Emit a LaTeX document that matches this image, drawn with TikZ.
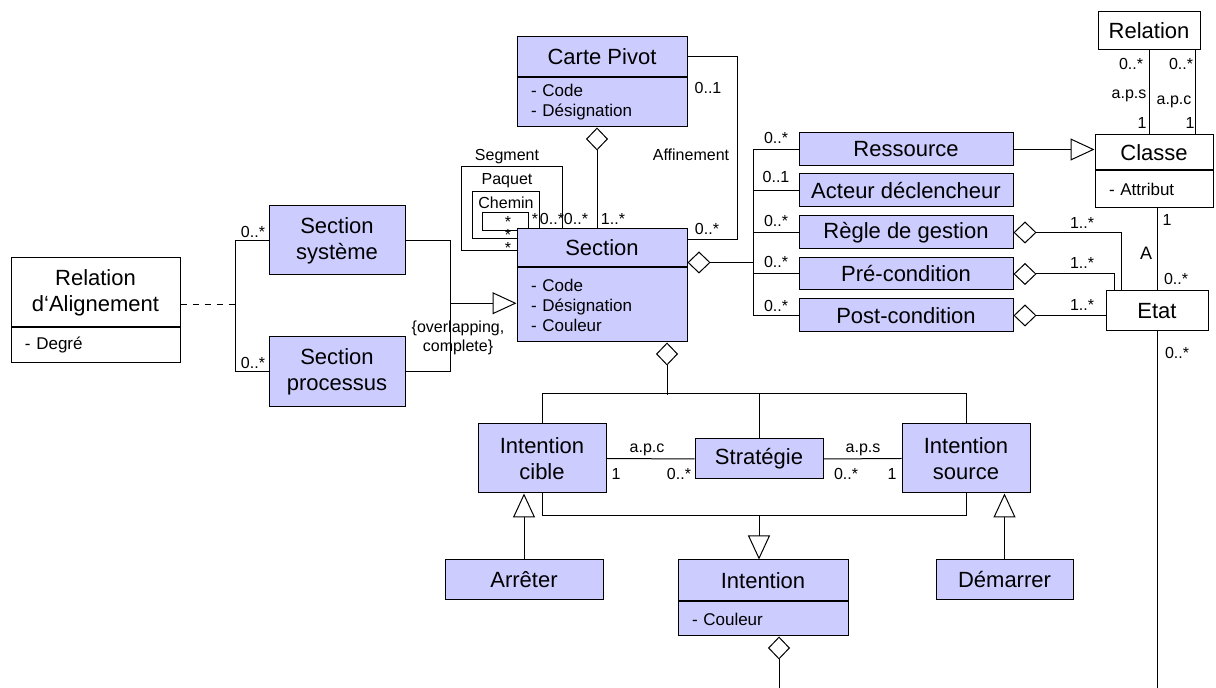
\documentclass[tikz,border=0pt]{standalone}
\usepackage{fontspec}
\setmainfont{Liberation Sans}
\usepackage{tikz}
\usetikzlibrary{arrows.meta,positioning,calc}
\definecolor{lav}{RGB}{204,204,255}
\newcommand{\clsfont}{\fontsize{11}{13}\selectfont}
\newcommand{\attfont}{\fontsize{8.5}{10}\selectfont}
\newcommand{\lblfont}{\fontsize{8}{9.5}\selectfont}

\begin{document}
\begin{tikzpicture}[x=0.5pt, y=-0.5pt, line width=0.5pt,
  cls/.style={draw, fill=lav, font=\clsfont, align=center, inner sep=0pt},
  wcls/.style={cls, fill=white},
  att/.style={draw, fill=lav, font=\attfont, align=left, anchor=north west, inner xsep=7pt, inner ysep=0pt},
  watt/.style={att, fill=white},
  lbl/.style={font=\lblfont, inner sep=0pt},
  agg/.style={{Diamond[open, length=11.5pt, width=11pt]}-},
  inh/.style={-{Triangle[open, length=12pt, width=11pt]}}
]
\useasboundingbox (0,0) rectangle (1216,688);

\node[cls, minimum width=85pt, minimum height=20pt] (carte) at (602,57) {Carte Pivot};
\node[att, text width=71pt, minimum height=24.5pt] (carte-a) at (carte.south west) {- Code\\- Désignation};
\node[cls, minimum width=85pt, minimum height=19pt] (section) at (602,248) {Section};
\node[att, text width=71pt, minimum height=37pt] (section-a) at (section.south west) {- Code\\- Désignation\\- Couleur};
\node[cls, minimum width=68pt, minimum height=34.5pt] (sys) at (337,240.5) {Section\\système};
\node[cls, minimum width=68pt, minimum height=35pt] (proc) at (337,372) {Section\\processus};
\node[wcls, minimum width=84.5pt, minimum height=34.5pt] (relal) at (95.5,292.5) {Relation\\d‘Alignement};
\node[watt, text width=70.5pt, minimum height=17.5pt] (relal-a) at (relal.south west) {- Degré};

\node[cls, minimum width=107pt, minimum height=16.5pt] (res) at (906,149.5) {Ressource};
\node[cls, minimum width=107pt, minimum height=16.5pt] (act) at (906,190.5) {Acteur déclencheur};
\node[cls, minimum width=107pt, minimum height=16.5pt] (regle) at (906,232.5) {Règle de gestion};
\node[cls, minimum width=107pt, minimum height=16pt] (pre) at (906,274) {Pré-condition};
\node[cls, minimum width=107pt, minimum height=16.5pt] (post) at (906,315.5) {Post-condition};

\node[wcls, minimum width=51pt, minimum height=19pt] (relation) at (1149,31) {Relation};
\node[wcls, minimum width=59pt, minimum height=17.5pt] (classe) at (1154,152.5) {Classe};
\node[watt, text width=45pt, minimum height=18.5pt] (classe-a) at (classe.south west) {- Attribut};
\node[wcls, minimum width=51pt, minimum height=20pt] (etat) at (1157,311) {Etat};

\node[cls, minimum width=64pt, minimum height=34.5pt] (cible) at (542,458.5) {Intention\\cible};
\node[cls, minimum width=64pt, minimum height=20pt] (strat) at (759,459) {Stratégie};
\node[cls, minimum width=64pt, minimum height=34.5pt] (source) at (966,458.5) {Intention\\source};
\node[cls, minimum width=85pt, minimum height=20.5pt] (intention) at (763,580.5) {Intention};
\node[att, text width=71pt, minimum height=17pt] (intention-a) at (intention.south west) {- Couleur};
\node[cls, minimum width=79pt, minimum height=20pt] (arreter) at (524,580) {Arrêter};
\node[cls, minimum width=68.5pt, minimum height=20pt] (demarrer) at (1004.5,580) {Démarrer};

\draw[agg] ($(carte-a.south)+(-5,0)$) -- ($(section.north)+(-5,0)$);
\draw (carte.east) -- ++(50,0) |- ($(section.north east)+(0,11)$);
\draw ($(section.north west)+(12,0)$) |- ++(-46,-16) |- ($(section.north west)+(0,2)$);
\draw ($(section.north west)+(23,0)$) |- ++(-67,-37) |- ($(section.north west)+(0,10)$);
\draw ($(section.north west)+(46,0)$) |- ++(-101,-62) |- ($(section.north west)+(0,22)$);

\draw (sys.west) -- ++(-33,0) |- (proc.west);
\draw[dashed] ($(relal.east)+(0,12)$) -- ++(56,0);
\draw (sys.east) -- ++(45,0) |- (proc.east);
\coordinate (genjoin) at ($(sys.east)!0.5!(proc.east)+(45,-3)$);
\draw[inh] (genjoin) -- (genjoin -| section-a.west);

\draw[agg] ($(section.south east)+(0,-5)$) -- ++(66,0);
\draw (res.west) -- ++(-45,0) |- (post.west);
\draw (act.west) -- ++(-45,0);
\draw (regle.west) -- ++(-45,0);
\draw (pre.west) -- ++(-45,0);
\draw[inh] (res.east) -- (res.east -| classe.west);
\draw[agg] (regle.east) -| ($(etat.north west)+(16,0)$);
\draw[agg] (pre.east) -| ($(etat.north west)+(9,0)$);
\draw[agg] (post.east) -- (post.east -| etat.west);

\draw (relation.south) -- (relation.south |- classe.north);
\draw ($(relation.south)+(46,0)$) -- ++(0,85);
\draw (etat.north |- classe-a.south) -- (etat.north);
\draw (etat.south) -- ++(0,357);

\draw[agg] ($(section-a.south)+(65,0)$) -- ++(0,53);
\draw (cible.north) -- ++(0,-30) -| (source.north);
\draw (strat.north) -- ++(0,-45);
\draw (cible.south) -- ++(0,22) -| (source.south);
\coordinate (lowbus) at ($(cible.south)+(0,22)$);
\draw[inh] (strat.south |- lowbus) -- (strat.south |- intention.north);
\draw (cible.east) -- (strat.west);
\draw (strat.east) -- (source.west);
\draw[inh] (arreter.north) -- (arreter.north |- cible.south);
\draw[inh] (demarrer.north) -- (demarrer.north |- source.south);
\draw[agg] ($(intention-a.south)+(16,0)$) -- ++(0,53);

\node[lbl] (m-carte) at (708,88) {0..1};
\node[lbl] (affin) at (691,155) {Affinement};
\node[lbl] (m-affin) at (707,229) {0..*};
\node[lbl] (segment) at (507,157) {Segment};
\node[lbl] (paquet) at (507,181) {Paquet};
\node[lbl] (chemin) at (506,203) {Chemin};
\node[lbl] (m-ch1) at (508,222) {*};
\node[lbl] (m-pa1) at (508,235) {*};
\node[lbl] (m-se1) at (508,248) {*};
\node[lbl] (m-ch2) at (535,219) {*};
\node[lbl] (m-pa2) at (552,219) {0..*};
\node[lbl] (m-se2) at (576,219) {0..*};
\node[lbl] (m-cp) at (613,219) {1..*};

\node[lbl] (m-sys) at (253,232) {0..*};
\node[lbl] (m-proc) at (253,363) {0..*};
\node[lbl, align=center] (ovl) at (458,338) {\{overlapping,\\complete\}};

\node[lbl] (m-res) at (776,138) {0..*};
\node[lbl] (m-act) at (776,177) {0..1};
\node[lbl] (m-regle) at (776,221) {0..*};
\node[lbl] (m-pre) at (776,262) {0..*};
\node[lbl] (m-post) at (776,306) {0..*};
\node[lbl] (m-regle2) at (1082,223) {1..*};
\node[lbl] (m-pre2) at (1082,263) {1..*};
\node[lbl] (m-post2) at (1082,305) {1..*};

\node[lbl] (m-aps1) at (1131,64) {0..*};
\node[lbl] (aps) at (1129,96) {a.p.s};
\node[lbl] (m-aps2) at (1142,123) {1};
\node[lbl] (m-apc1) at (1181,64) {0..*};
\node[lbl] (apc) at (1174,102) {a.p.c};
\node[lbl] (m-apc2) at (1190,123) {1};
\node[lbl] (m-cl) at (1167,220) {1};
\node[lbl, font=\fontsize{9}{10}\selectfont] (assoc-a) at (1146,253) {A};
\node[lbl] (m-et1) at (1176,279) {0..*};
\node[lbl] (m-et2) at (1177,353) {0..*};

\node[lbl] (apc2) at (647,450) {a.p.c};
\node[lbl] (m-ci) at (616,474) {1};
\node[lbl] (m-st1) at (679,474) {0..*};
\node[lbl] (aps2) at (863,450) {a.p.s};
\node[lbl] (m-st2) at (846,474) {0..*};
\node[lbl] (m-so) at (892,474) {1};
\end{tikzpicture}
\end{document}
